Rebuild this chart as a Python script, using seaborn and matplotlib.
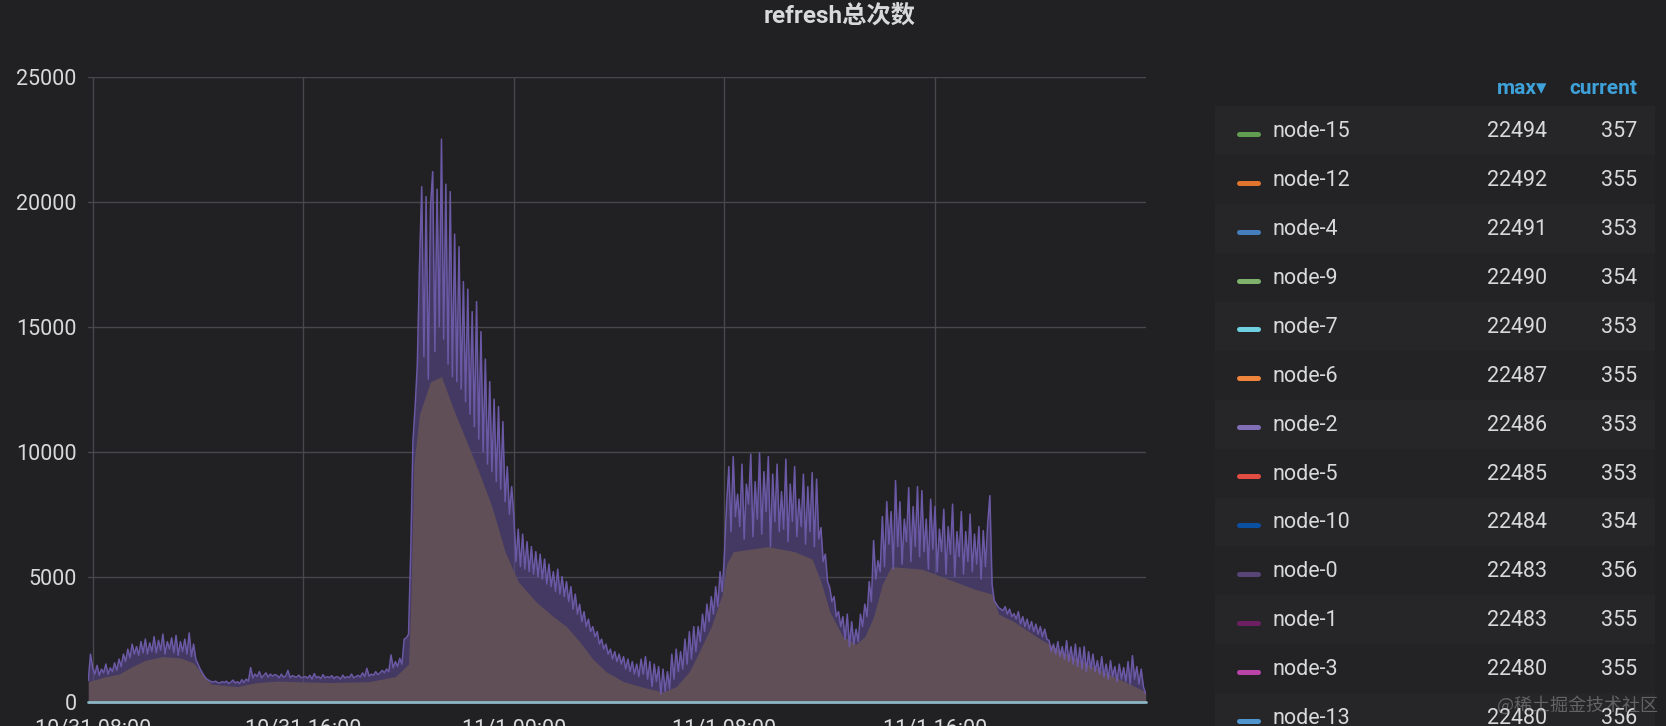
import pandas as pd
import matplotlib
matplotlib.use('Agg')
import matplotlib.pyplot as plt
from matplotlib.patches import Rectangle
from matplotlib.lines import Line2D
import seaborn as sns

# refresh count, one value every 5 minutes from 10/31 07:50 to 11/2 00:00
line_vals = [
    840, 1900,
    # 10/31 08:00 .. 23:55
    1350, 1100, 1450, 1050, 1300, 1150, 1500, 1100, 1350, 1200, 1550, 1250,
    1700, 1400, 1900, 1600, 2100, 1750, 2300, 1900, 2200, 1850, 2400, 1950,
    2500, 1900, 2350, 2000, 2600, 1950, 2450, 2050, 2700, 1900, 2400, 2100,
    2550, 1950, 2650, 1850, 2400, 2000, 2500, 1900, 2750, 1800, 2300, 1700,
    1500, 1300, 1150, 1000, 900, 850, 800, 780, 820, 760, 740, 800,
    760, 820, 720, 780, 860, 740, 800, 720, 880, 760, 900, 820,
    1360, 950, 1100, 1000, 1200, 950, 1050, 1150, 980, 1100, 1020, 1080,
    1050, 950, 1100, 980, 1020, 1250, 960, 1040, 1000, 980, 1060, 950,
    980, 1000, 940, 1050, 900, 1120, 960, 1000, 920, 1080, 950, 1000,
    960, 1040, 920, 1000, 980, 900, 1060, 940, 1000, 960, 1100, 950,
    1000, 1050, 980, 1150, 1000, 1330, 1020, 1100, 1050, 1200, 1080, 1150,
    1250, 1150, 1300, 1200, 1870, 1350, 1600, 1400, 1730, 1500, 2500, 2550,
    2700, 6000, 10400, 11800, 13500, 17500, 20600, 13800, 20200, 12900, 19800, 21200,
    14000, 20500, 15000, 22500, 14500, 20700, 13500, 20400, 13000, 18700, 12800, 18200,
    12500, 16800, 12000, 16500, 11500, 15600, 11000, 16000, 10500, 14800, 10000, 13700,
    9500, 12800, 9200, 12100, 8800, 11800, 8500, 11200, 8000, 9400, 7500, 8600,
    # 11/1 00:00 .. 23:55
    7400, 5600, 6900, 5400, 6700, 5300, 6400, 5200, 6200, 5100, 6000, 5000,
    5900, 4900, 5700, 4700, 5500, 4600, 5200, 4400, 5300, 4300, 5000, 4200,
    4800, 4000, 4600, 3700, 4300, 3500, 3900, 3200, 3600, 3000, 3300, 2800,
    3000, 2600, 2800, 2300, 2500, 2100, 2300, 1900, 2100, 1700, 2000, 1600,
    1900, 1500, 1800, 1300, 1700, 1200, 1600, 1100, 1500, 1000, 1700, 1100,
    1800, 900, 1600, 600, 1500, 800, 1400, 300, 1300, 400, 1200, 500,
    1900, 900, 2100, 1200, 2000, 1300, 2500, 1500, 2800, 1700, 3000, 2000,
    3000, 2400, 3500, 2800, 3900, 3200, 4200, 3500, 4600, 3800, 5200, 4400,
    5900, 7900, 9400, 6800, 9800, 7400, 8300, 7000, 9500, 6500, 8700, 7900,
    9900, 6600, 8800, 7300, 9960, 6700, 9200, 7600, 9800, 6200, 9100, 7200,
    9500, 6800, 8400, 6900, 9700, 6400, 8700, 7200, 9400, 6600, 8100, 7000,
    9100, 6300, 8600, 6800, 9160, 6200, 8900, 6500, 6960, 5600, 5900, 4800,
    4560, 4000, 4200, 3400, 3600, 3000, 3400, 2500, 3500, 2200, 3200, 2300,
    2900, 2400, 3500, 3000, 3900, 3400, 4800, 4000, 6440, 4900, 5640, 5200,
    7400, 5400, 8000, 6300, 7600, 5300, 8840, 6200, 8000, 5500, 7300, 6400,
    8560, 5600, 7800, 6200, 8600, 5800, 8440, 6000, 7300, 5300, 8100, 6100,
    7800, 5200, 6900, 6000, 7700, 5100, 7000, 5900, 7900, 5000, 6800, 5800,
    7600, 5100, 6800, 5600, 7500, 5200, 6700, 5500, 7000, 4900, 6840, 5400,
    7100, 8240, 4700, 4040, 3900, 3760, 3700, 3640, 3800, 3500, 3700, 3400,
    3520, 3300, 3600, 3100, 3400, 3000, 3300, 2900, 3200, 2800, 3100, 2700,
    3000, 2600, 2900, 2500, 2440, 2000, 2300, 1900, 2400, 1800, 2200, 1700,
    2440, 1600, 2200, 1500, 2300, 1400, 2160, 1300, 2200, 1200, 2000, 1300,
    1900, 1200, 1640, 1100, 1800, 1000, 1500, 900, 1640, 1000, 1400, 800,
    1500, 900, 1360, 800, 1600, 700, 1840, 900, 1400, 700, 1300, 600,
    320,
]

# lower level that all nodes share (the dense filled part)
base_times = [
    '2023-10-31 07:50', '2023-10-31 08:30', '2023-10-31 09:00', '2023-10-31 09:30',
    '2023-10-31 10:00', '2023-10-31 10:40', '2023-10-31 11:20', '2023-10-31 11:50',
    '2023-10-31 12:10', '2023-10-31 12:30', '2023-10-31 13:30', '2023-10-31 14:10',
    '2023-10-31 15:00', '2023-10-31 17:00', '2023-10-31 18:30', '2023-10-31 19:30',
    '2023-10-31 20:00', '2023-10-31 20:05', '2023-10-31 20:12', '2023-10-31 20:25',
    '2023-10-31 20:50', '2023-10-31 21:15', '2023-10-31 21:40', '2023-10-31 22:10',
    '2023-10-31 22:40', '2023-10-31 23:10', '2023-10-31 23:40', '2023-11-01 00:10',
    '2023-11-01 00:50', '2023-11-01 01:30', '2023-11-01 02:00', '2023-11-01 02:30',
    '2023-11-01 03:00', '2023-11-01 03:30', '2023-11-01 04:10', '2023-11-01 05:00',
    '2023-11-01 05:40', '2023-11-01 06:10', '2023-11-01 06:40', '2023-11-01 07:00',
    '2023-11-01 07:30', '2023-11-01 07:55', '2023-11-01 08:05', '2023-11-01 08:20',
    '2023-11-01 09:40', '2023-11-01 10:40', '2023-11-01 11:20', '2023-11-01 11:40',
    '2023-11-01 12:00', '2023-11-01 12:30', '2023-11-01 13:00', '2023-11-01 13:20',
    '2023-11-01 13:40', '2023-11-01 14:00', '2023-11-01 14:20', '2023-11-01 15:30',
    '2023-11-01 16:30', '2023-11-01 17:30', '2023-11-01 18:10', '2023-11-01 18:25',
    '2023-11-01 19:00', '2023-11-01 20:00', '2023-11-01 21:00', '2023-11-01 22:00',
    '2023-11-01 23:00', '2023-11-02 00:00',
]
base_vals = [
    800, 1000, 1100, 1400,
    1650, 1800, 1750, 1550,
    1100, 700, 600, 750,
    820, 760, 800, 1000,
    1500, 4000, 9500, 11500,
    12800, 13000, 11800, 10500,
    9200, 7800, 6000, 4800,
    4000, 3400, 3000, 2400,
    1700, 1200, 800, 550,
    380, 600, 1200, 1900,
    3000, 4300, 5500, 6000,
    6200, 6000, 5700, 4800,
    3600, 2600, 2300, 2600,
    3400, 4700, 5400, 5300,
    4900, 4500, 4300, 3500,
    3200, 2500, 1900, 1400,
    900, 400,
]

zero_times = ['2023-10-31 07:50', '2023-11-02 00:00']
zero_vals = [0, 0]

tick_times = ['2023-10-31 08:00', '2023-10-31 16:00', '2023-11-01 00:00',
              '2023-11-01 08:00', '2023-11-01 16:00']
tick_labels = ['10/31 08:00', '10/31 16:00', '11/1 00:00', '11/1 08:00', '11/1 16:00']
yticks = [0, 5000, 10000, 15000, 20000, 25000]

nodes = ['node-15', 'node-12', 'node-4', 'node-9', 'node-7', 'node-6', 'node-2',
         'node-5', 'node-10', 'node-0', 'node-1', 'node-3', 'node-13']
node_colors = ['#629e51', '#e0752d', '#447ebc', '#7eb26d', '#6ed0e0', '#ef843c', '#806eb7',
               '#e24d42', '#0a50a1', '#584477', '#6d1f62', '#ba43a9', '#5195ce']
max_vals = [22494, 22492, 22491, 22490, 22490, 22487, 22486, 22485, 22484, 22483, 22483, 22480, 22480]
cur_vals = [357, 355, 353, 354, 353, 355, 353, 353, 354, 356, 355, 355, 356]

sns.set_style('dark')
plt.rcParams['font.family'] = ['Roboto', 'Noto Sans CJK SC', 'DejaVu Sans']

bg = '#212124'
txt = '#d8d9da'
W, H = 1666, 726


def fx(x):
    return x / W


def fy(y):
    return 1 - y / H


fig = plt.figure(figsize=(W / 100, H / 100), dpi=100, facecolor=bg)
ax = fig.add_axes([fx(88.3), 1 - 701.6 / H, (1145.6 - 88.3) / W, (701.6 - 76.7) / H])
ax.set_facecolor(bg)

df = pd.DataFrame({'time': pd.date_range('2023-10-31 07:50', '2023-11-02 00:00', freq='5min'),
                   'refresh': line_vals})
base_df = pd.DataFrame({'time': pd.to_datetime(base_times), 'refresh': base_vals})
zero_df = pd.DataFrame({'time': pd.to_datetime(zero_times), 'refresh': zero_vals})

ax.fill_between(df['time'], df['refresh'], color='#5a4a8e', alpha=0.6, lw=0, zorder=1)
ax.fill_between(base_df['time'], base_df['refresh'], color='#614f57', lw=0, zorder=2)
sns.lineplot(data=df, x='time', y='refresh', ax=ax, color='#6c59a6', lw=1.1, zorder=3)
sns.lineplot(data=zero_df, x='time', y='refresh', ax=ax, color='#8cb6c6', lw=2.0, zorder=4)
ax.lines[-1].set_clip_on(False)

ax.set_xlim(df['time'].iloc[0], df['time'].iloc[-1])
ax.set_ylim(0, 25000)
ax.set_yticks(yticks)
ax.set_yticklabels([str(v) for v in yticks])
ax.set_xticks(pd.to_datetime(tick_times))
ax.set_xticklabels(tick_labels)
ax.set_xlabel('')
ax.set_ylabel('')
ax.grid(True, color='#48484c', lw=1)
ax.set_axisbelow(True)
for s in ax.spines.values():
    s.set_visible(False)
ax.tick_params(axis='both', length=0, colors=txt, labelsize=15.5)
ax.tick_params(axis='x', pad=12.5)
ax.tick_params(axis='y', pad=8.5)

fig.text(fx(840), fy(23.3), 'refresh总次数', ha='center', va='baseline',
         fontsize=17.5, fontweight='bold', color=txt)

# legend table on the right
hdr = '#3ea1d9'
fig.text(fx(1547), fy(94.3), 'max▾', ha='right', va='baseline', fontsize=15,
         fontweight='bold', color=hdr, family=['Roboto', 'DejaVu Sans'])
fig.text(fx(1637), fy(94.3), 'current', ha='right', va='baseline', fontsize=15,
         fontweight='bold', color=hdr)

row_h = 48.9
for i, (name, c, mv, cv) in enumerate(zip(nodes, node_colors, max_vals, cur_vals)):
    base_y = 137.3 + i * row_h
    mid = base_y - 6.5
    band = '#262629' if i % 2 == 0 else '#232326'
    fig.add_artist(Rectangle((fx(1215), fy(mid + row_h / 2)), (1655 - 1215) / W, row_h / H,
                             transform=fig.transFigure, color=band, lw=0, zorder=0))
    fig.add_artist(Line2D([fx(1238.5), fx(1257.5)], [fy(mid + 3), fy(mid + 3)],
                          transform=fig.transFigure, color=c, lw=3.6, solid_capstyle='round'))
    fig.text(fx(1273), fy(base_y), name, ha='left', va='baseline', fontsize=15.5, color=txt)
    fig.text(fx(1547), fy(base_y), str(mv), ha='right', va='baseline', fontsize=15.5, color=txt)
    fig.text(fx(1637), fy(base_y), str(cv), ha='right', va='baseline', fontsize=15.5, color=txt)

fig.text(fx(1658), fy(705), '@稀土掘金技术社区', ha='right', va='center', fontsize=13,
         color='#a0a0a0', alpha=0.5, family=['Noto Sans CJK SC', 'DejaVu Sans'])

fig.savefig('out.png', dpi=100, facecolor=bg)
